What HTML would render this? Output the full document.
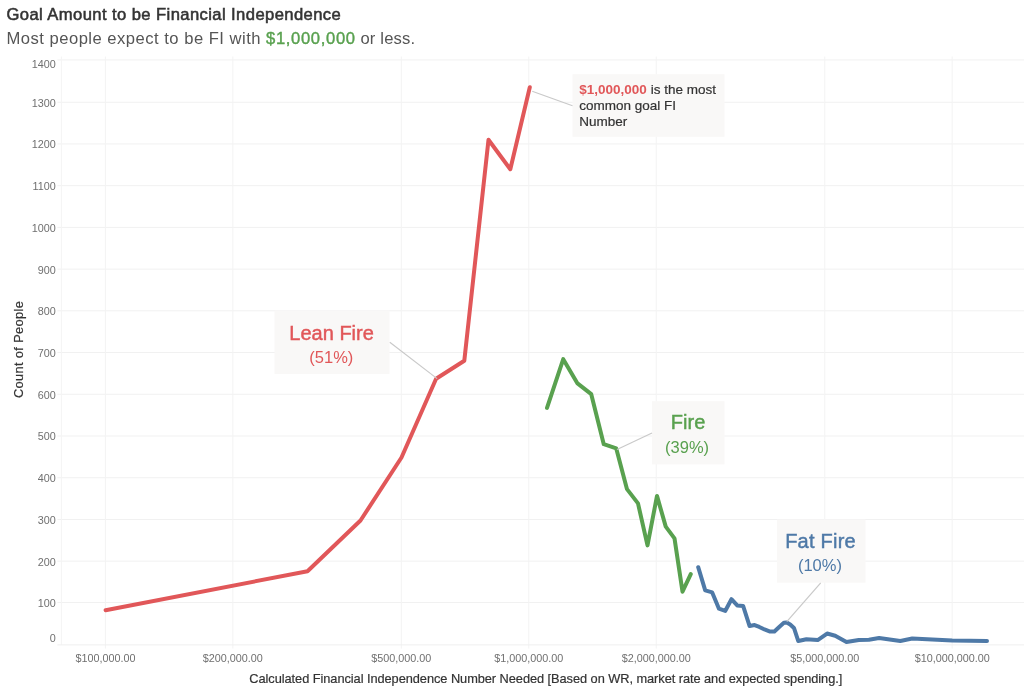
<!DOCTYPE html>
<html><head><meta charset="utf-8"><title>Goal Amount to be Financial Independence</title>
<style>
html,body{margin:0;padding:0;background:#fff;}
body{width:1024px;height:694px;overflow:hidden;position:relative;font-family:"Liberation Sans",sans-serif;}
svg{position:absolute;left:0;top:0;}
svg text{font-family:"Liberation Sans",sans-serif;}
.grid line{stroke:#f1f1f1;stroke-width:1;}
.tick text{font-size:10.8px;fill:#6f6f6f;}
.series polyline{fill:none;stroke-width:4.0;stroke-linejoin:round;stroke-linecap:round;}
.lead line{stroke:#c9c9c9;stroke-width:1.15;}
.box rect{fill:#f9f8f7;}
</style></head><body>
<svg width="1024" height="694" viewBox="0 0 1024 694">
<text x="6.5" y="20.2" font-size="16.6" fill="#333" stroke="#333" stroke-width="0.55" textLength="334.3" lengthAdjust="spacing">Goal Amount to be Financial Independence</text>
<text x="6.5" y="44.2" font-size="16.6" fill="#555" textLength="254" lengthAdjust="spacing">Most people expect to be FI with</text>
<text x="266" y="44.2" font-size="16.6" fill="#59a14f" stroke="#59a14f" stroke-width="0.4" textLength="89" lengthAdjust="spacing">$1,000,000</text>
<text x="360.5" y="44.2" font-size="16.6" fill="#555" textLength="54.5" lengthAdjust="spacing">or less.</text>
<g class="grid">
<line x1="57.4" x2="1024" y1="602.48" y2="602.48"/>
<line x1="57.4" x2="1024" y1="561.16" y2="561.16"/>
<line x1="57.4" x2="1024" y1="519.44" y2="519.44"/>
<line x1="57.4" x2="1024" y1="477.72" y2="477.72"/>
<line x1="57.4" x2="1024" y1="436.00" y2="436.00"/>
<line x1="57.4" x2="1024" y1="394.28" y2="394.28"/>
<line x1="57.4" x2="1024" y1="352.56" y2="352.56"/>
<line x1="57.4" x2="1024" y1="310.84" y2="310.84"/>
<line x1="57.4" x2="1024" y1="269.12" y2="269.12"/>
<line x1="57.4" x2="1024" y1="227.40" y2="227.40"/>
<line x1="57.4" x2="1024" y1="185.68" y2="185.68"/>
<line x1="57.4" x2="1024" y1="143.96" y2="143.96"/>
<line x1="57.4" x2="1024" y1="102.24" y2="102.24"/>
<line x1="57.4" x2="1024" y1="59.92" y2="59.92"/>
<line x1="105.40" x2="105.40" y1="56.5" y2="648.6" style="stroke:#f3f3f3"/>
<line x1="232.86" x2="232.86" y1="56.5" y2="648.6" style="stroke:#f3f3f3"/>
<line x1="401.34" x2="401.34" y1="56.5" y2="648.6" style="stroke:#f3f3f3"/>
<line x1="528.80" x2="528.80" y1="56.5" y2="648.6" style="stroke:#f3f3f3"/>
<line x1="656.26" x2="656.26" y1="56.5" y2="648.6" style="stroke:#f3f3f3"/>
<line x1="824.74" x2="824.74" y1="56.5" y2="648.6" style="stroke:#f3f3f3"/>
<line x1="952.20" x2="952.20" y1="56.5" y2="648.6" style="stroke:#f3f3f3"/>
<line x1="61.4" x2="61.4" y1="56.5" y2="644.9" style="stroke:#f4f4f4"/>
<line x1="57.4" x2="1024" y1="644.9" y2="644.9" style="stroke:#efefef"/>
</g>
<g class="tick">
<text x="55.8" y="642.00" text-anchor="end">0</text>
<text x="55.8" y="606.88" text-anchor="end">100</text>
<text x="55.8" y="565.56" text-anchor="end">200</text>
<text x="55.8" y="523.84" text-anchor="end">300</text>
<text x="55.8" y="482.12" text-anchor="end">400</text>
<text x="55.8" y="440.40" text-anchor="end">500</text>
<text x="55.8" y="398.68" text-anchor="end">600</text>
<text x="55.8" y="356.96" text-anchor="end">700</text>
<text x="55.8" y="315.24" text-anchor="end">800</text>
<text x="55.8" y="273.52" text-anchor="end">900</text>
<text x="55.8" y="231.80" text-anchor="end">1000</text>
<text x="55.8" y="190.08" text-anchor="end">1100</text>
<text x="55.8" y="148.36" text-anchor="end">1200</text>
<text x="55.8" y="106.64" text-anchor="end">1300</text>
<text x="55.8" y="67.72" text-anchor="end">1400</text>
<text x="105.40" y="661.7" text-anchor="middle">$100,000.00</text>
<text x="232.86" y="661.7" text-anchor="middle">$200,000.00</text>
<text x="401.34" y="661.7" text-anchor="middle">$500,000.00</text>
<text x="528.80" y="661.7" text-anchor="middle">$1,000,000.00</text>
<text x="656.26" y="661.7" text-anchor="middle">$2,000,000.00</text>
<text x="824.74" y="661.7" text-anchor="middle">$5,000,000.00</text>
<text x="952.20" y="661.7" text-anchor="middle">$10,000,000.00</text>
</g>
<text transform="translate(22.5,398.1) rotate(-90)" font-size="12.8" fill="#333" stroke="#333" stroke-width="0.2" textLength="97" lengthAdjust="spacing">Count of People</text>
<text x="249.3" y="683" font-size="12.8" fill="#333" stroke="#333" stroke-width="0.2" textLength="593" lengthAdjust="spacing">Calculated Financial Independence Number Needed [Based on WR, market rate and expected spending.]</text>
<g class="box">
<rect x="572.5" y="74.2" width="152" height="62.6"/>
<rect x="274.5" y="310.5" width="115" height="63.4"/>
<rect x="652" y="401.2" width="72.5" height="63.2"/>
<rect x="777" y="519.5" width="88.5" height="63.2"/>
</g>
<g class="series">
<polyline stroke="#e15759" points="105.60,610.20 307.50,571.25 360.50,520.50 401.50,457.50 436.10,378.80 464.30,360.75 488.50,139.80 510.30,169.20 529.80,87.20"/>
<polyline stroke="#59a14f" points="547.00,407.90 563.25,359.15 577.50,383.40 591.25,394.15 603.75,444.15 616.25,448.40 627.00,489.15 638.00,503.40 647.50,545.40 657.00,495.90 665.75,526.65 674.50,538.40 682.50,591.65 690.75,574.15"/>
<polyline stroke="#4e79a7" points="698.20,567.20 705.20,590.45 712.20,592.45 718.95,608.70 725.20,610.95 731.45,599.20 737.20,605.45 743.20,606.05 749.60,626.05 754.60,625.05 759.30,626.95 764.50,629.45 769.50,631.45 774.40,631.45 779.20,626.95 783.90,622.75 786.70,622.45 790.20,624.45 793.95,627.95 798.30,641.05 806.45,639.20 817.70,640.05 827.10,633.55 835.20,635.70 846.45,642.05 858.80,639.95 868.90,639.75 879.10,638.05 900.30,640.95 912.20,638.55 952.20,640.55 987.00,641.05"/>
</g>
<g class="lead">
<line x1="532.2" y1="91.2" x2="572.5" y2="105.8"/>
<line x1="389.8" y1="342.2" x2="437.1" y2="378.6"/>
<line x1="652" y1="433" x2="617" y2="449.4"/>
<line x1="820.7" y1="582.8" x2="786.8" y2="621.6"/>
</g>
<g font-size="13.5" fill="#333" stroke="#333" stroke-width="0.2">
<text x="579.3" y="94"><tspan fill="#e15759" stroke="none" font-weight="bold">$1,000,000</tspan> is the most</text>
<text x="579.3" y="110">common goal FI</text>
<text x="579.3" y="126">Number</text>
</g>
<g text-anchor="middle">
<text x="331.6" y="339.5" font-size="20" fill="#e15759" stroke="#e15759" stroke-width="0.45">Lean Fire</text>
<text x="331.3" y="362.5" font-size="16.5" fill="#e15759">(51%)</text>
<text x="688.1" y="429.3" font-size="20" fill="#59a14f" stroke="#59a14f" stroke-width="0.45">Fire</text>
<text x="687.1" y="452.5" font-size="16.5" fill="#59a14f">(39%)</text>
<text x="820.4" y="547.5" font-size="20" fill="#4e79a7" stroke="#4e79a7" stroke-width="0.45" textLength="70.5" lengthAdjust="spacing">Fat Fire</text>
<text x="819.9" y="571.3" font-size="16.5" fill="#4e79a7">(10%)</text>
</g>
</svg>
</body></html>
